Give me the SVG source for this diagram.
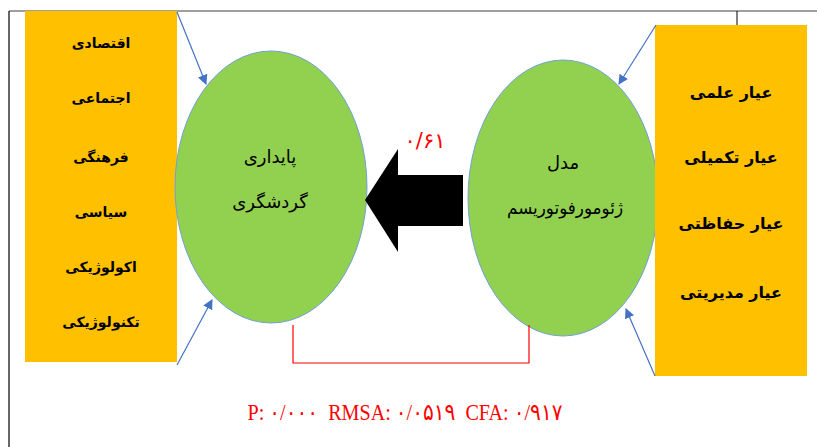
<svg xmlns="http://www.w3.org/2000/svg" width="817" height="447" viewBox="0 0 817 447">
<defs>
<marker id="ah" markerWidth="10" markerHeight="10" refX="9" refY="5" orient="auto" markerUnits="userSpaceOnUse">
<path d="M0,0 L10,5 L0,10 Z" fill="#4472C4"/>
</marker>
<style>
.box{fill:#FFC000;}
.circ{fill:#92D050;stroke:#6FA0D8;stroke-width:1;}
.lbl{font-family:"DejaVu Sans",sans-serif;font-weight:bold;fill:#000;text-anchor:middle;}
.ctext{font-family:"DejaVu Sans",sans-serif;fill:#000;text-anchor:middle;font-size:18px;}
.conn{stroke:#4472C4;stroke-width:1.2;fill:none;marker-end:url(#ah);}
.red{fill:#FF0000;}
</style>
</defs>
<rect x="0" y="0" width="817" height="447" fill="#fff"/>
<g id="frame">
<line x1="9" y1="11" x2="817" y2="11" stroke="#7F7F7F" stroke-width="1.5"/>
<line x1="9" y1="11" x2="9" y2="447" stroke="#000" stroke-width="1.2"/>
<line x1="737" y1="11" x2="737" y2="25" stroke="#000" stroke-width="1"/>
</g>
<g id="right-circle">
<ellipse class="circ" cx="563" cy="198" rx="95" ry="138"/>
<text class="ctext" x="563" y="169">مدل</text>
<text class="ctext" x="565" y="214" textLength="116" lengthAdjust="spacingAndGlyphs">ژئومورفوتوریسم</text>
</g>
<g id="left-box">
<rect class="box" x="25" y="11" width="152" height="351"/>
<text class="lbl" x="101" y="48" font-size="14">اقتصادی</text>
<text class="lbl" x="101" y="103" font-size="14">اجتماعی</text>
<text class="lbl" x="101" y="162" font-size="14">فرهنگی</text>
<text class="lbl" x="101" y="217" font-size="14">سیاسی</text>
<text class="lbl" x="101" y="272" font-size="14">اکولوژیکی</text>
<text class="lbl" x="101" y="327" font-size="14">تکنولوژیکی</text>
</g>
<g id="right-box">
<rect class="box" x="655" y="25" width="152" height="351"/>
<text class="lbl" x="731" y="98" font-size="16">عیار علمی</text>
<text class="lbl" x="731" y="163" font-size="16">عیار تکمیلی</text>
<text class="lbl" x="731" y="229" font-size="16">عیار حفاظتی</text>
<text class="lbl" x="731" y="298" font-size="16">عیار مدیریتی</text>
</g>
<g id="left-circle">
<ellipse class="circ" cx="271" cy="187" rx="96" ry="136"/>
<text class="ctext" x="270" y="163">پایداری</text>
<text class="ctext" x="270" y="208">گردشگری</text>
</g>
<g id="connectors">
<line class="conn" x1="177" y1="12" x2="206" y2="84"/>
<line class="conn" x1="177" y1="365" x2="212" y2="300"/>
<line class="conn" x1="656" y1="25" x2="619" y2="84"/>
<line class="conn" x1="655" y1="376" x2="626" y2="309"/>
<polygon points="365,200 398,149 398,175 463,175 463,226 398,226 398,252" fill="#000"/>
<polyline points="293,325 293,363 529,363 529,325" fill="none" stroke="#FF0000" stroke-width="1.2"/>
</g>
<g id="labels">
<text class="red" x="425" y="148" font-family="DejaVu Sans, sans-serif" font-size="21" text-anchor="middle">۰/۶۱</text>
<text class="red" x="405" y="420" font-family="Liberation Serif, DejaVu Sans, serif" font-size="23" text-anchor="middle" xml:space="preserve" textLength="315" lengthAdjust="spacingAndGlyphs">P: ۰/۰۰۰  RMSA: ۰/۰۵۱۹  CFA: ۰/۹۱۷</text>
</g>
</svg>
